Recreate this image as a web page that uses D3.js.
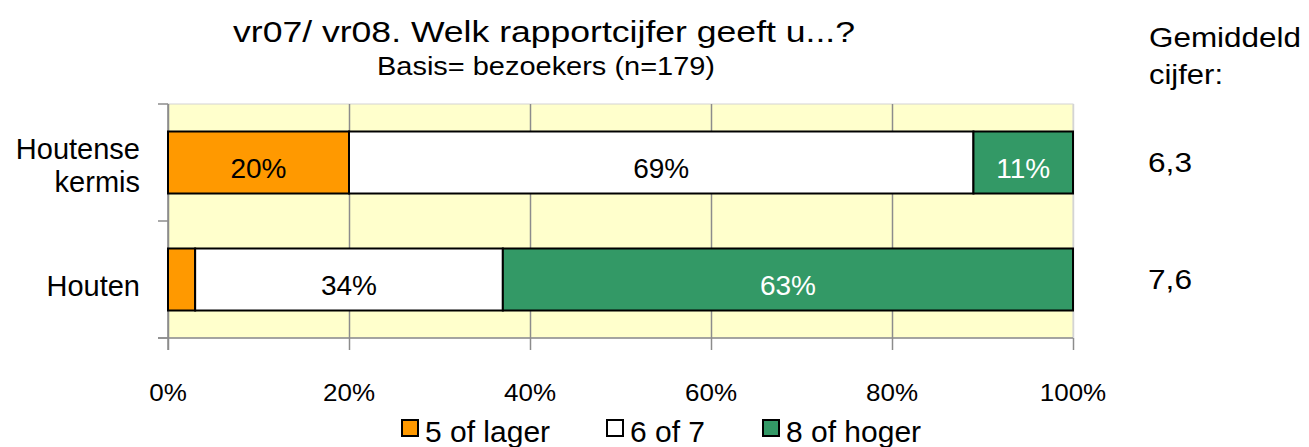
<!DOCTYPE html>
<html>
<head>
<meta charset="utf-8">
<script src="https://cdn.jsdelivr.net/npm/d3@7"></script>
<style>
  html, body { margin: 0; padding: 0; background: #fff; }
  svg { display: block; font-family: "Liberation Sans", Arial, sans-serif; }
</style>
</head>
<body>
<svg id="chart" width="1309" height="447"></svg>
<script>
// data
const categories = ['Houtense\nkermis', 'Houten']
const series = ['5 of lager', '6 of 7', '8 of hoger']
const laag = [20, 3]
const midden = [69, 34]
const hoog = [11, 63]
const gemiddeld = ['6,3', '7,6']
const xTicks = [0, 20, 40, 60, 80, 100]

const colors = ['#ff9900', '#ffffff', '#339966']
const labelColors = ['#000', '#000', '#fff']

const svg = d3.select('#chart')

// widen text a bit, like the original rendering
function stretch(sel, factor) {
  sel.each(function () {
    const len = this.getComputedTextLength()
    d3.select(this).attr('textLength', len * factor).attr('lengthAdjust', 'spacingAndGlyphs')
  })
}

const x = d3.scaleLinear().domain([0, 100]).range([168, 1073])
const y = d3.scaleBand().domain(categories).range([104, 338])
  .paddingInner(0.47).paddingOuter(0.235)

// stacked rows
const rows = categories.map((c, i) => ({ cat: c, values: [laag[i], midden[i], hoog[i]] }))
const stack = d3.stack().keys([0, 1, 2]).value((d, k) => d.values[k])
const stacked = stack(rows)

// plot background
svg.append('rect')
  .attr('x', x(0)).attr('y', y.range()[0])
  .attr('width', x(100) - x(0)).attr('height', y.range()[1] - y.range()[0])
  .attr('fill', '#ffffcc')
  .attr('stroke', '#d4d4d4').attr('stroke-width', 1)

// vertical gridlines
const xAxis = d3.axisBottom(x)
  .tickValues(xTicks)
  .tickSize(-(y.range()[1] - y.range()[0]))
  .tickFormat('')
svg.append('g')
  .attr('transform', `translate(0,${y.range()[1]})`)
  .call(xAxis)
  .call(g => g.select('.domain').remove())
  .call(g => g.selectAll('.tick line')
    .attr('stroke', d => d === 100 ? '#d4d4d4' : '#8c8c8c')
    .attr('stroke-width', 1.5))

// small outer ticks below the plot
const xTickMarks = d3.axisBottom(x).tickValues(xTicks).tickSize(12).tickFormat('')
svg.append('g')
  .attr('transform', `translate(0,${y.range()[1]})`)
  .call(xTickMarks)
  .call(g => g.select('.domain').remove())
  .call(g => g.selectAll('.tick line').attr('stroke', '#8c8c8c').attr('stroke-width', 1.5))

// tick labels
svg.append('g')
  .selectAll('text')
  .data(xTicks)
  .enter().append('text')
  .attr('x', d => x(d))
  .attr('y', 401)
  .attr('text-anchor', 'middle')
  .attr('font-size', '23px')
  .attr('fill', '#000')
  .text(d => d + '%')
  .call(stretch, 1.13)

// bottom axis line and left axis with ticks at band edges
svg.append('line')
  .attr('x1', x(0) - 10).attr('x2', x(100))
  .attr('y1', y.range()[1]).attr('y2', y.range()[1])
  .attr('stroke', '#8c8c8c').attr('stroke-width', 1.5)
svg.append('line')
  .attr('x1', x(0)).attr('x2', x(0))
  .attr('y1', y.range()[0]).attr('y2', y.range()[1] + 12)
  .attr('stroke', '#8c8c8c').attr('stroke-width', 1.5)
const edges = d3.range(categories.length + 1).map(i => y.range()[0] + i * y.step())
svg.append('g')
  .selectAll('line')
  .data(edges)
  .enter().append('line')
  .attr('x1', x(0) - 10).attr('x2', x(0))
  .attr('y1', d => d).attr('y2', d => d)
  .attr('stroke', '#8c8c8c').attr('stroke-width', 1.5)

// bars
const layer = svg.append('g')
  .selectAll('g')
  .data(stacked)
  .enter().append('g')
  .attr('fill', d => colors[d.key])

layer.selectAll('rect')
  .data(d => d)
  .enter().append('rect')
  .attr('x', d => x(d[0]))
  .attr('y', d => y(d.data.cat))
  .attr('width', d => x(d[1]) - x(d[0]))
  .attr('height', y.bandwidth())
  .attr('stroke', '#000')
  .attr('stroke-width', 2)

// value labels inside bars
layer.selectAll('text')
  .data(d => d.map(p => ({ key: d.key, p })))
  .enter().append('text')
  .filter(d => d.p[1] - d.p[0] >= 5)
  .attr('x', d => (x(d.p[0]) + x(d.p[1])) / 2)
  .attr('y', d => y(d.p.data.cat) + y.bandwidth() / 2 + 15)
  .attr('text-anchor', 'middle')
  .attr('font-size', '28px')
  .attr('fill', d => labelColors[d.key])
  .text(d => Math.round(d.p[1] - d.p[0]) + '%')

// category labels
svg.append('g')
  .selectAll('text')
  .data(categories)
  .enter().append('text')
  .attr('text-anchor', 'end')
  .attr('font-size', '29px')
  .attr('fill', '#000')
  .each(function (d) {
    const lines = d.split('\n')
    const cy = y(d) + y.bandwidth() / 2
    const first = cy + 16.5 - (lines.length - 1) * 20
    d3.select(this).selectAll('tspan')
      .data(lines)
      .enter().append('tspan')
      .attr('x', 140)
      .attr('y', (l, i) => first + i * 33)
      .text(l => l)
  })

// average grade column
svg.append('text')
  .attr('x', 1149).attr('y', 47)
  .attr('font-size', '28px')
  .attr('textLength', 152).attr('lengthAdjust', 'spacingAndGlyphs')
  .text('Gemiddeld')
svg.append('text')
  .attr('x', 1149).attr('y', 84)
  .attr('font-size', '28px')
  .attr('textLength', 74).attr('lengthAdjust', 'spacingAndGlyphs')
  .text('cijfer:')
svg.append('g')
  .selectAll('text')
  .data(gemiddeld)
  .enter().append('text')
  .attr('x', 1148)
  .attr('y', (d, i) => y(categories[i]) + y.bandwidth() / 2 + 9)
  .attr('font-size', '27px')
  .attr('textLength', 44).attr('lengthAdjust', 'spacingAndGlyphs')
  .text(d => d)

// titles
svg.append('text')
  .attr('x', 544).attr('y', 42)
  .attr('text-anchor', 'middle')
  .attr('font-size', '30px')
  .attr('textLength', 622).attr('lengthAdjust', 'spacingAndGlyphs')
  .text('vr07/ vr08. Welk rapportcijfer geeft u...?')
svg.append('text')
  .attr('x', 546).attr('y', 75)
  .attr('text-anchor', 'middle')
  .attr('font-size', '25px')
  .attr('textLength', 338).attr('lengthAdjust', 'spacingAndGlyphs')
  .text('Basis= bezoekers (n=179)')

// legend
const legendX = [402, 607, 763]
const legend = svg.append('g')
  .selectAll('g')
  .data(series)
  .enter().append('g')
  .attr('transform', (d, i) => `translate(${legendX[i]},420)`)
legend.append('rect')
  .attr('width', 16).attr('height', 16)
  .attr('fill', (d, i) => colors[i])
  .attr('stroke', '#000').attr('stroke-width', 2)
legend.append('text')
  .attr('x', 23).attr('y', 22)
  .attr('font-size', '30px')
  .attr('fill', '#000')
  .text(d => d)
</script>
</body>
</html>
